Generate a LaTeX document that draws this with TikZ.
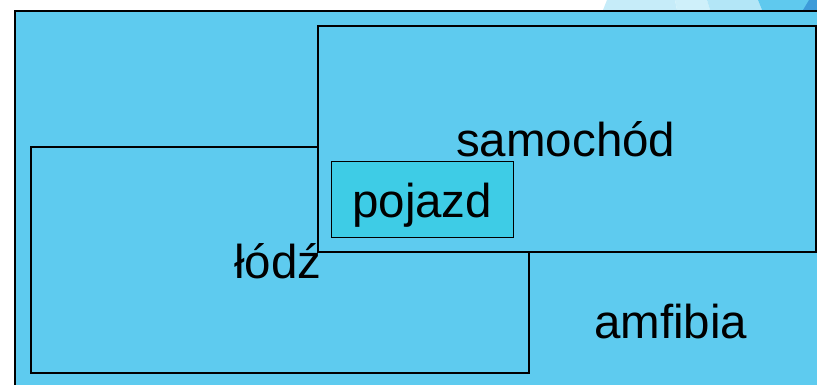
\documentclass[tikz,border=0pt]{standalone}
\usepackage{fontspec}
\setmainfont{Liberation Sans}
\definecolor{skyfill}{HTML}{5ECBEF}
\definecolor{cyanfill}{HTML}{3ECCE6}
\definecolor{decoA}{HTML}{C6ECF9}
\definecolor{decoB}{HTML}{CFF0FA}
\definecolor{decoC}{HTML}{B3E6F7}
\definecolor{decoD}{HTML}{5FC9EE}
\definecolor{decoE}{HTML}{3D9BD9}
\tikzset{
  setbox/.style={draw=black, line width=1.5pt, fill=skyfill, inner sep=0pt, anchor=north west},
  lbl/.style={inner sep=0pt, anchor=base west, font=\fontsize{47.5}{56}\selectfont}
}
\begin{document}
\begin{tikzpicture}[x=1pt,y=-1pt]
\useasboundingbox (0,0) rectangle (817,384);
\fill[white] (0,0) rectangle (817,384);
% top decoration
\fill[decoA] (607,0) -- (675,0) -- (677,10) -- (603,10) -- cycle;
\fill[decoB] (675,0) -- (707,0) -- (710,10) -- (677,10) -- cycle;
\fill[decoC] (707,0) -- (758,0) -- (762,10) -- (710,10) -- cycle;
\fill[decoD] (758,0) -- (817,0) -- (817,10) -- (762,10) -- cycle;
\fill[decoE] (809,0) -- (817,0) -- (817,10) -- (803,10) -- cycle;
% universe
\node[setbox, line width=2pt, minimum width=816pt, minimum height=385pt] (univ) at (14,10) {};
% sets
\node[setbox, minimum width=498pt, minimum height=226pt] (lodzset) at (30,146) {};
\node[setbox, minimum width=498pt, minimum height=226pt] (samset) at (317,25) {};
\node[setbox, fill=cyanfill, line width=1.2pt, minimum width=182pt, minimum height=76pt] (pojbox) at (331,161) {};
% labels
\node[lbl] (samochod) at (456,156) {samochód};
\node[lbl] (pojazd) at (352,217) {pojazd};
\node[lbl] (lodz) at (234,278) {łódź};
\node[lbl] (amfibia) at (594,338) {amfibia};
\end{tikzpicture}
\end{document}
